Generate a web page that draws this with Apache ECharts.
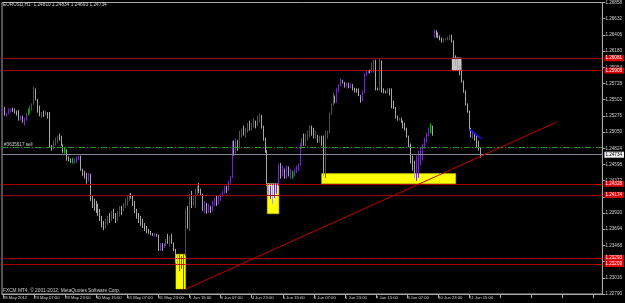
<!DOCTYPE html>
<html><head><meta charset="utf-8">
<script src="https://cdn.jsdelivr.net/npm/echarts@6/dist/echarts.min.js"></script>
<style>html,body{margin:0;padding:0;background:#000;}#c{width:625px;height:303px;}</style>
</head><body><div id="c"></div>
<script>
const symbolTitle = 'EURUSD,H1  1.24810 1.24834 1.24693 1.24734';
const brokerNote = 'FXCM MT4, \u00a9 2001-2012, MetaQuotes Software Corp.';
const timeTickLabels = ['28 May 2012','29 May 07:00','29 May 23:00','30 May 15:00','31 May 07:00','31 May 23:00','1 Jun 15:00','4 Jun 07:00','4 Jun 23:00','5 Jun 15:00','6 Jun 07:00','6 Jun 23:00','7 Jun 15:00','8 Jun 07:00','10 Jun 23:00','11 Jun 15:00'];
const barsPerTimeTick = 16;
const slotCount = 309;
const priceBase = 1.22790;
const priceStepPts = 226;
const priceTickLabels = ['1.22790','1.23016','1.23242','1.23468','1.23694','1.23920','1.24146','1.24372','1.24598','1.24824','1.25050','1.25276','1.25502','1.25728','1.25954','1.26180','1.26406','1.26632','1.26858'];

// hourly bars: [open, high, low, close]
const may28 = [[1.2532,1.2539,1.2531,1.2538],[1.2538,1.2540,1.2528,1.2529],[1.2529,1.2532,1.2526,1.2531],[1.2531,1.2538,1.2530,1.2536],[1.2536,1.2538,1.2532,1.2537],[1.2537,1.2539,1.2533,1.2535],[1.2535,1.2538,1.2531,1.2533],[1.2533,1.2535,1.2528,1.2530],[1.2530,1.2536,1.2521,1.2523]];
const may29 = [[1.2523,1.2528,1.2521,1.2526],[1.2526,1.2528,1.2518,1.2520],[1.2520,1.2525,1.2514,1.2524],[1.2524,1.2532,1.2521,1.2531],[1.2532,1.2538,1.2528,1.2532],[1.2532,1.2542,1.2531,1.2540],[1.2540,1.2545,1.2535,1.2544],[1.2544,1.2568,1.2543,1.2562],[1.2562,1.2566,1.2549,1.2550],[1.2550,1.2551,1.2532,1.2535],[1.2535,1.2542,1.2527,1.2528],[1.2528,1.2533,1.2525,1.2532],[1.2532,1.2535,1.2526,1.2530],[1.2530,1.2535,1.2528,1.2533],[1.2533,1.2533,1.2524,1.2527],[1.2527,1.2533,1.2484,1.2486],[1.2486,1.2487,1.2479,1.2482],[1.2482,1.2493,1.2481,1.2490],[1.2490,1.2497,1.2486,1.2495],[1.2495,1.2500,1.2489,1.2499],[1.2499,1.2503,1.2493,1.2497],[1.2497,1.2500,1.2486,1.2487],[1.2487,1.2488,1.2476,1.2480],[1.2480,1.2484,1.2475,1.2480]];
const may30 = [[1.2480,1.2481,1.2465,1.2467],[1.2467,1.2471,1.2464,1.2466],[1.2466,1.2468,1.2462,1.2464],[1.2464,1.2469,1.2461,1.2464],[1.2464,1.2468,1.2461,1.2467],[1.2467,1.2471,1.2462,1.2470],[1.2470,1.2472,1.2466,1.2471],[1.2471,1.2472,1.2451,1.2453],[1.2453,1.2454,1.2444,1.2446],[1.2446,1.2451,1.2440,1.2445],[1.2445,1.2448,1.2433,1.2438],[1.2438,1.2448,1.2436,1.2446],[1.2446,1.2447,1.2409,1.2412],[1.2412,1.2416,1.2399,1.2403],[1.2403,1.2412,1.2395,1.2398],[1.2398,1.2409,1.2392,1.2396],[1.2396,1.2405,1.2388,1.2391],[1.2391,1.2398,1.2381,1.2384],[1.2384,1.2388,1.2372,1.2376],[1.2376,1.2381,1.2368,1.2372],[1.2372,1.2384,1.2370,1.2380],[1.2380,1.2388,1.2375,1.2385],[1.2385,1.2392,1.2378,1.2383],[1.2383,1.2395,1.2381,1.2392]];
const may31 = [[1.2392,1.2398,1.2384,1.2387],[1.2387,1.2392,1.2378,1.2382],[1.2382,1.2395,1.2381,1.2393],[1.2393,1.2402,1.2387,1.2399],[1.2399,1.2402,1.2389,1.2396],[1.2396,1.2406,1.2395,1.2404],[1.2404,1.2412,1.2399,1.2409],[1.2409,1.2416,1.2402,1.2413],[1.2413,1.2419,1.2409,1.2417],[1.2417,1.2420,1.2412,1.2414],[1.2414,1.2416,1.2402,1.2405],[1.2405,1.2409,1.2392,1.2395],[1.2395,1.2398,1.2384,1.2387],[1.2387,1.2392,1.2378,1.2381],[1.2381,1.2388,1.2374,1.2378],[1.2378,1.2384,1.2371,1.2373],[1.2373,1.2378,1.2367,1.2370],[1.2370,1.2374,1.2364,1.2366],[1.2366,1.2370,1.2363,1.2365],[1.2365,1.2367,1.2361,1.2363],[1.2363,1.2364,1.2360,1.2361],[1.2361,1.2364,1.2359,1.2362],[1.2362,1.2363,1.2359,1.2361],[1.2361,1.2362,1.2339,1.2341]];
const jun01 = [[1.2341,1.2350,1.2339,1.2348],[1.2348,1.2350,1.2339,1.2344],[1.2344,1.2350,1.2343,1.2347],[1.2347,1.2356,1.2346,1.2354],[1.2354,1.2363,1.2349,1.2351],[1.2351,1.2360,1.2346,1.2358],[1.2358,1.2363,1.2349,1.2350],[1.2350,1.2351,1.2339,1.2341],[1.2341,1.2342,1.2322,1.2330],[1.2330,1.2334,1.2318,1.2325],[1.2325,1.2334,1.2311,1.2328],[1.2328,1.2332,1.2314,1.2330],[1.2330,1.2334,1.2286,1.2333],[1.2333,1.2398,1.2332,1.2395],[1.2395,1.2402,1.2370,1.2380],[1.2380,1.2419,1.2367,1.2410],[1.2410,1.2423,1.2399,1.2404],[1.2404,1.2416,1.2402,1.2414],[1.2414,1.2426,1.2399,1.2420],[1.2420,1.2430,1.2416,1.2427],[1.2427,1.2434,1.2420,1.2423]];
const jun03 = [[1.2423,1.2426,1.2416,1.2418],[1.2418,1.2419,1.2395,1.2399],[1.2399,1.2409,1.2392,1.2402]];
const jun04 = [[1.2402,1.2406,1.2391,1.2395],[1.2395,1.2405,1.2392,1.2400],[1.2400,1.2402,1.2392,1.2395],[1.2395,1.2409,1.2394,1.2406],[1.2406,1.2413,1.2402,1.2410],[1.2410,1.2416,1.2402,1.2405],[1.2405,1.2416,1.2404,1.2413],[1.2413,1.2419,1.2409,1.2417],[1.2417,1.2423,1.2415,1.2421],[1.2421,1.2430,1.2419,1.2428],[1.2428,1.2430,1.2420,1.2424],[1.2424,1.2437,1.2423,1.2435],[1.2435,1.2444,1.2433,1.2442],[1.2442,1.2493,1.2441,1.2488],[1.2488,1.2493,1.2472,1.2476],[1.2476,1.2496,1.2475,1.2492],[1.2492,1.2494,1.2479,1.2483],[1.2483,1.2507,1.2482,1.2503],[1.2503,1.2510,1.2497,1.2508],[1.2508,1.2514,1.2500,1.2503],[1.2503,1.2511,1.2497,1.2509],[1.2509,1.2518,1.2504,1.2515],[1.2515,1.2521,1.2507,1.2512],[1.2512,1.2518,1.2507,1.2516]];
const jun05 = [[1.2516,1.2524,1.2511,1.2520],[1.2520,1.2521,1.2510,1.2514],[1.2514,1.2528,1.2513,1.2525],[1.2525,1.2531,1.2518,1.2528],[1.2528,1.2529,1.2510,1.2512],[1.2512,1.2514,1.2493,1.2496],[1.2496,1.2497,1.2476,1.2479],[1.2479,1.2480,1.2430,1.2433],[1.2433,1.2434,1.2416,1.2421],[1.2421,1.2430,1.2412,1.2426],[1.2426,1.2431,1.2405,1.2418],[1.2418,1.2433,1.2413,1.2429],[1.2429,1.2434,1.2419,1.2431],[1.2431,1.2461,1.2430,1.2456],[1.2456,1.2462,1.2440,1.2444],[1.2444,1.2458,1.2443,1.2452],[1.2452,1.2454,1.2440,1.2443],[1.2443,1.2458,1.2440,1.2455],[1.2455,1.2457,1.2443,1.2447],[1.2447,1.2454,1.2440,1.2450],[1.2448,1.2451,1.2440,1.2448],[1.2448,1.2454,1.2443,1.2452],[1.2452,1.2458,1.2448,1.2456],[1.2456,1.2461,1.2451,1.2459]];
const jun06 = [[1.2459,1.2490,1.2458,1.2487],[1.2487,1.2497,1.2482,1.2494],[1.2494,1.2503,1.2486,1.2490],[1.2490,1.2503,1.2486,1.2500],[1.2500,1.2507,1.2493,1.2504],[1.2504,1.2514,1.2497,1.2511],[1.2511,1.2514,1.2500,1.2503],[1.2503,1.2511,1.2496,1.2499],[1.2499,1.2507,1.2496,1.2500],[1.2500,1.2501,1.2490,1.2493],[1.2493,1.2500,1.2490,1.2497],[1.2497,1.2500,1.2486,1.2489],[1.2489,1.2500,1.2444,1.2449],[1.2449,1.2507,1.2441,1.2503],[1.2503,1.2507,1.2496,1.2505],[1.2505,1.2532,1.2503,1.2530],[1.2530,1.2545,1.2529,1.2543],[1.2543,1.2560,1.2542,1.2555],[1.2555,1.2556,1.2545,1.2547],[1.2547,1.2566,1.2546,1.2563],[1.2563,1.2572,1.2560,1.2570],[1.2570,1.2580,1.2569,1.2577],[1.2577,1.2578,1.2573,1.2574],[1.2574,1.2575,1.2567,1.2570]];
const jun07 = [[1.2570,1.2574,1.2567,1.2572],[1.2572,1.2574,1.2566,1.2568],[1.2568,1.2573,1.2566,1.2571],[1.2571,1.2572,1.2563,1.2565],[1.2565,1.2567,1.2560,1.2563],[1.2563,1.2566,1.2560,1.2561],[1.2561,1.2566,1.2555,1.2556],[1.2556,1.2557,1.2546,1.2549],[1.2549,1.2563,1.2548,1.2560],[1.2560,1.2587,1.2559,1.2584],[1.2584,1.2591,1.2583,1.2588],[1.2588,1.2591,1.2587,1.2590],[1.2590,1.2592,1.2587,1.2589],[1.2589,1.2602,1.2588,1.2600],[1.2600,1.2606,1.2588,1.2603],[1.2603,1.2606,1.2563,1.2566],[1.2566,1.2567,1.2563,1.2565],[1.2565,1.2608,1.2563,1.2604],[1.2604,1.2605,1.2560,1.2563],[1.2563,1.2566,1.2559,1.2562],[1.2562,1.2563,1.2559,1.2560],[1.2560,1.2566,1.2559,1.2564],[1.2564,1.2566,1.2556,1.2558],[1.2558,1.2566,1.2538,1.2541]];
const jun08 = [[1.2541,1.2549,1.2537,1.2539],[1.2539,1.2540,1.2524,1.2526],[1.2526,1.2528,1.2521,1.2523],[1.2523,1.2525,1.2521,1.2524],[1.2524,1.2525,1.2518,1.2520],[1.2520,1.2521,1.2510,1.2512],[1.2512,1.2518,1.2507,1.2510],[1.2510,1.2511,1.2497,1.2499],[1.2499,1.2500,1.2484,1.2486],[1.2486,1.2489,1.2461,1.2464],[1.2464,1.2472,1.2451,1.2455],[1.2455,1.2465,1.2441,1.2445],[1.2445,1.2472,1.2437,1.2462],[1.2462,1.2479,1.2441,1.2470],[1.2470,1.2484,1.2458,1.2480],[1.2480,1.2489,1.2465,1.2485],[1.2485,1.2497,1.2482,1.2494],[1.2494,1.2504,1.2490,1.2500],[1.2500,1.2511,1.2499,1.2508],[1.2508,1.2517,1.2503,1.2508],[1.2508,1.2514,1.2500,1.2504]];
const jun10 = [[1.2638,1.2648,1.2636,1.2645],[1.2645,1.2647,1.2637,1.2640],[1.2640,1.2644,1.2636,1.2638]];
const jun11 = [[1.2638,1.2640,1.2633,1.2635],[1.2635,1.2637,1.2630,1.2632],[1.2632,1.2636,1.2630,1.2634],[1.2634,1.2636,1.2633,1.2635],[1.2635,1.2638,1.2633,1.2637],[1.2637,1.2641,1.2633,1.2639],[1.2639,1.2641,1.2630,1.2632],[1.2632,1.2633,1.2609,1.2611],[1.2611,1.2612,1.2598,1.2602],[1.2602,1.2609,1.2591,1.2595],[1.2595,1.2598,1.2584,1.2587],[1.2587,1.2591,1.2574,1.2576],[1.2576,1.2577,1.2560,1.2562],[1.2562,1.2563,1.2542,1.2544],[1.2544,1.2545,1.2532,1.2534],[1.2534,1.2535,1.2507,1.2510],[1.2510,1.2511,1.2497,1.2500],[1.2500,1.2507,1.2496,1.2503],[1.2503,1.2504,1.2493,1.2496],[1.2496,1.2500,1.2484,1.2487],[1.2487,1.2493,1.2479,1.2481],[1.24810,1.24834,1.24693,1.24734]];

// chart objects (bar index, price)
const solidLevels = [1.26081, 1.24174];
const dottedLevels = [1.25908, 1.24328, 1.23293, 1.23209];
const orderLevel = 1.24831;
const orderText = '#3635617 sell';
const bidLevel = 1.24734;
const trendLine = [[94, 1.22858], [285, 1.25190]];
const blueLine = [[240, 1.25090], [246, 1.24960]];
const yellowZones = [[[89, 1.23345], [94, 1.22860]], [[136, 1.24330], [142, 1.23910]], [[164, 1.24470], [233, 1.24330]]];
const greyZone = [[231, 1.26089], [236, 1.25907]];

const FONT = 'Liberation Sans, Arial, sans-serif';
const toPts = p => Math.round((p - priceBase) * 1e6) / 10;
const bars = [].concat(may28, may29, may30, may31, jun01, jun03, jun04, jun05, jun06, jun07, jun08, jun10, jun11);
const candleData = bars.map(b => [toPts(b[0]), toPts(b[3]), toPts(b[2]), toPts(b[1])]);
const categories = Array.from({length: slotCount}, (_, i) => String(i));

const redLabel = v => ({show: true, position: 'end', formatter: v.toFixed(5), color: '#ffffff', backgroundColor: '#e00000', fontSize: 4.6, fontFamily: FONT, padding: [1, 2, 0, 1], distance: 2});
const lines = [];
solidLevels.forEach(v => lines.push({yAxis: toPts(v), lineStyle: {color: '#a00000', type: 'solid', width: 1}, label: redLabel(v)}));
dottedLevels.forEach(v => lines.push({yAxis: toPts(v), lineStyle: {color: '#c80000', type: 'dotted', width: 1}, label: redLabel(v)}));
lines.push({yAxis: toPts(orderLevel), lineStyle: {color: '#2f8f2f', type: [6, 2, 1, 2], width: 1},
  label: {show: true, position: 'insideStartTop', formatter: orderText, color: '#d0d0d0', fontSize: 4.6, fontFamily: FONT, distance: [2, 1]}});
lines.push({yAxis: toPts(bidLevel), lineStyle: {color: '#7f8898', type: 'solid', width: 1},
  label: {show: true, position: 'end', formatter: bidLevel.toFixed(5), color: '#000', backgroundColor: '#f0f0f0', fontSize: 4.6, fontFamily: FONT, padding: [1, 2, 0, 1], distance: 2}});
lines.push([{coord: [trendLine[0][0], toPts(trendLine[0][1])], lineStyle: {color: '#c00000', type: 'solid', width: 1}, label: {show: false}}, {coord: [trendLine[1][0], toPts(trendLine[1][1])]}]);
lines.push([{coord: [blueLine[0][0], toPts(blueLine[0][1])], lineStyle: {color: '#1a1aff', type: 'solid', width: 1.5}, label: {show: false}}, {coord: [blueLine[1][0], toPts(blueLine[1][1])]}]);

const areas = yellowZones.map(z => [{xAxis: z[0][0], yAxis: toPts(z[0][1]), itemStyle: {color: '#ffff00', borderColor: '#c8c800', borderWidth: 0.5}}, {xAxis: z[1][0], yAxis: toPts(z[1][1])}]);
areas.push([{xAxis: greyZone[0][0], yAxis: toPts(greyZone[0][1]), itemStyle: {color: '#c4c4c4'}}, {xAxis: greyZone[1][0], yAxis: toPts(greyZone[1][1])}]);

const chart = echarts.init(document.getElementById('c'), null, {renderer: 'canvas'});
chart.setOption({
  animation: false,
  backgroundColor: '#000000',
  textStyle: {fontFamily: FONT},
  title: [
    {text: symbolTitle, left: 3, top: 2, padding: 0, textStyle: {fontSize: 4.8, color: '#d8d8d8', fontWeight: 'normal', fontFamily: FONT}},
    {text: brokerNote, left: 3, top: 288, padding: 0, textStyle: {fontSize: 4.8, color: '#d0d0d0', fontWeight: 'normal', fontFamily: FONT}}
  ],
  grid: {left: 1, right: 19, top: 2, bottom: 9, show: true, borderColor: '#a8a8a8', borderWidth: 1, backgroundColor: '#000'},
  xAxis: {
    type: 'category', data: categories, boundaryGap: true,
    axisLine: {lineStyle: {color: '#a8a8a8'}},
    axisTick: {show: true, interval: barsPerTimeTick - 1, alignWithLabel: true, length: 4, lineStyle: {color: '#a8a8a8'}},
    axisLabel: {interval: barsPerTimeTick - 1, align: 'left', margin: 2, fontSize: 4.2, color: '#d0d0d0', fontFamily: FONT, hideOverlap: false,
      formatter: (v, i) => (i % barsPerTimeTick === 0 && timeTickLabels[i / barsPerTimeTick]) || ''},
    splitLine: {show: false}
  },
  yAxis: {
    type: 'value', position: 'right', min: 0, max: priceStepPts * (priceTickLabels.length - 1), interval: priceStepPts, scale: false,
    axisLine: {show: true, lineStyle: {color: '#a8a8a8'}},
    axisTick: {show: true, length: 3, lineStyle: {color: '#a8a8a8'}},
    axisLabel: {margin: 3, fontSize: 4.6, color: '#d0d0d0', fontFamily: FONT,
      formatter: v => priceTickLabels[Math.round(v / priceStepPts)] || ''},
    splitLine: {show: false}
  },
  series: [{
    type: 'candlestick',
    data: candleData,
    barWidth: 1,
    itemStyle: {color: '#6a34a0', color0: '#a8a8a8', borderColor: '#6a34a0', borderColor0: '#a8a8a8', borderColorDoji: '#00c000', borderWidth: 1},
    markArea: {silent: true, data: areas},
    markLine: {silent: true, symbol: ['none', 'none'], animation: false, data: lines}
  }]
});
</script>
</body></html>
